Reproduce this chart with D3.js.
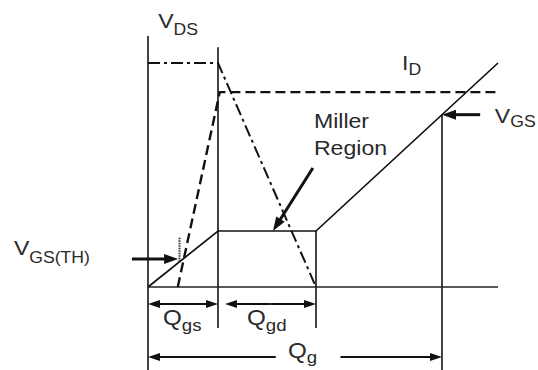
<!DOCTYPE html>
<html>
<head>
<meta charset="utf-8">
<script src="https://cdn.jsdelivr.net/npm/d3@7"></script>
<style>
  body { margin: 0; background: #fff; }
  svg text { font-family: "Liberation Sans", Arial, sans-serif; fill: #2a2a2a; }
</style>
</head>
<body>
<div id="chart"></div>
<script>
  // gate charge units on x, volts / amps (arbitrary) on y
  var vgsSeries = [[0, 0], [2, 2.5], [4.8, 2.5], [10, 10]]
  var vdsSeries = [[0, 10], [2, 10], [4.8, 0]]
  var idSeries = [[0.85, 0], [2.05, 8.7], [10, 8.7]]

  // charge marks: threshold, Qgs, end of Qgd, Qg
  var qTh = 0.9
  var qGs = 2
  var qGd = 4.8
  var qG = 8.4

  // guide lines [x, yTop, yBottom]
  var guides = [[0, 11.2, -3.75], [qGs, 10.7, -1.83], [qGd, 2.5, -1.83]]

  var labels = [
    {x: 0.29, y: 11.56, main: "V", sub: "DS", dy: 7},
    {x: 7.26, y: 9.69, main: "I", sub: "D", dy: 5},
    {x: 9.91, y: 7.32, main: "V", sub: "GS", dy: 4},
    {x: -3.83, y: 1.43, main: "V", sub: "GS(TH)", dy: 8},
    {x: 0.43, y: -1.70, main: "Q", sub: "gs", dy: 6, size: 22},
    {x: 2.83, y: -1.70, main: "Q", sub: "gd", dy: 6, size: 22},
    {x: 4.0, y: -3.17, main: "Q", sub: "g", dy: 5, size: 22}
  ]

  var width = 538, height = 370

  var svg = d3.select("#chart").append("svg")
      .attr("width", width)
      .attr("height", height)

  svg.append("rect").attr("width", width).attr("height", height).attr("fill", "#fff")

  var x = d3.scaleLinear().domain([0, 10]).range([148, 498])
  var y = d3.scaleLinear().domain([0, 10]).range([287, 63])

  var line = d3.line()
      .x(function(d) { return x(d[0]); })
      .y(function(d) { return y(d[1]); })

  var vgsAt = function(q) {
    for (var i = 1; i < vgsSeries.length; i++) {
      var a = vgsSeries[i - 1], b = vgsSeries[i]
      if (q <= b[0]) return a[1] + (b[1] - a[1]) * (q - a[0]) / (b[0] - a[0])
    }
    return vgsSeries[vgsSeries.length - 1][1]
  }

  // draws a line with a filled triangle head at (x2, y2)
  var arrow = function(x1, y1, x2, y2, w, len, half) {
    var px1 = x(x1), py1 = y(y1), px2 = x(x2), py2 = y(y2)
    var a = Math.atan2(py2 - py1, px2 - px1)
    var cx = px2 - Math.cos(a) * len * 0.8, cy = py2 - Math.sin(a) * len * 0.8
    svg.append("line")
        .attr("x1", px1).attr("y1", py1).attr("x2", cx).attr("y2", cy)
        .attr("stroke", "#111").attr("stroke-width", w)
    var bx = px2 - Math.cos(a) * len, by = py2 - Math.sin(a) * len
    var nx = -Math.sin(a) * half, ny = Math.cos(a) * half
    svg.append("path")
        .attr("d", "M" + px2 + "," + py2 + "L" + (bx + nx) + "," + (by + ny) +
                   "L" + (bx - nx) + "," + (by - ny) + "Z")
        .attr("fill", "#111")
  }

  // guide verticals
  svg.selectAll(".guide")
      .data(guides)
    .enter().append("line")
      .attr("class", "guide")
      .attr("x1", function(d) { return x(d[0]); })
      .attr("x2", function(d) { return x(d[0]); })
      .attr("y1", function(d) { return y(d[1]); })
      .attr("y2", function(d) { return y(d[2]); })
      .attr("stroke", "#222")
      .attr("stroke-width", 1.7)

  svg.append("line")
      .attr("x1", x(qG)).attr("x2", x(qG))
      .attr("y1", y(vgsAt(qG))).attr("y2", y(-3.75))
      .attr("stroke", "#222").attr("stroke-width", 1.7)

  // threshold tick
  svg.append("line")
      .attr("x1", x(qTh)).attr("x2", x(qTh))
      .attr("y1", y(2.2)).attr("y2", y(vgsAt(qTh)))
      .attr("stroke", "#333").attr("stroke-width", 2)
      .attr("stroke-dasharray", "1.5,1")

  // baseline
  svg.append("line")
      .attr("x1", x(0)).attr("x2", x(10))
      .attr("y1", y(0)).attr("y2", y(0))
      .attr("stroke", "#222").attr("stroke-width", 1.7)

  // V_DS dash-dot
  svg.append("path")
      .attr("d", line(vdsSeries))
      .attr("fill", "none")
      .attr("stroke", "#111")
      .attr("stroke-width", 2)
      .attr("stroke-dasharray", "12,4,3,4")

  // I_D dashed
  svg.append("path")
      .attr("d", line(idSeries))
      .attr("fill", "none")
      .attr("stroke", "#111")
      .attr("stroke-width", 2.4)
      .attr("stroke-dasharray", "10,5")

  // V_GS solid
  svg.append("path")
      .attr("d", line(vgsSeries))
      .attr("fill", "none")
      .attr("stroke", "#111")
      .attr("stroke-width", 1.7)

  // pointer arrows
  arrow(-0.46, 1.25, 0.86, 1.25, 3, 14, 5)
  arrow(9.49, vgsAt(qG), qG, vgsAt(qG), 3, 14, 5)
  arrow(4.71, 5.31, 3.57, 2.5, 3, 14, 5)

  // dimension arrows
  var dimY = -0.76, gY = -3.12
  arrow(1, dimY, 0, dimY, 2, 12, 4)
  arrow(1, dimY, qGs, dimY, 2, 12, 4)
  arrow(3.5, dimY, 2.2, dimY, 2, 12, 4)
  arrow(3.5, dimY, qGd, dimY, 2, 12, 4)
  arrow(3.65, gY, 0, gY, 2, 12, 4)
  arrow(5.5, gY, qG, gY, 2, 12, 4)

  // text labels with subscripts
  labels.forEach(function(d) {
    var size = d.size || 21
    var t = svg.append("text")
        .attr("transform", "translate(" + x(d.x) + "," + y(d.y) + ") scale(1.1,1)")
        .style("font-size", size + "px")
    t.append("tspan").text(d.main)
    t.append("tspan")
        .attr("dy", d.dy)
        .style("font-size", Math.round(size * 0.78) + "px")
        .text(d.sub)
  })

  svg.append("text")
      .attr("transform", "translate(" + x(4.74) + "," + y(7.1) + ") scale(1.1,1)")
      .style("font-size", "21px")
      .text("Miller")
  svg.append("text")
      .attr("transform", "translate(" + x(4.74) + "," + y(5.89) + ") scale(1.1,1)")
      .style("font-size", "21px")
      .text("Region")
</script>
</body>
</html>
